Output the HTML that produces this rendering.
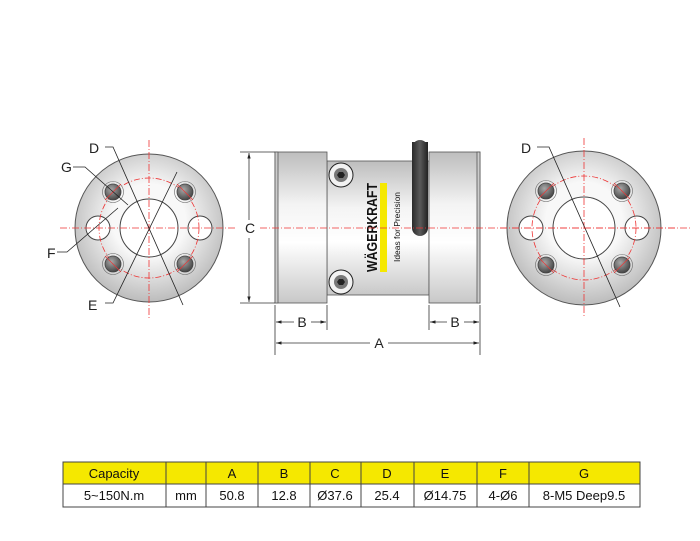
<!DOCTYPE html>
<html><head><meta charset="utf-8"><style>
html,body{margin:0;padding:0;background:#fff;}
svg{display:block;font-family:"Liberation Sans",sans-serif;}
</style></head><body>
<svg width="700" height="541" viewBox="0 0 700 541">
<defs>
<radialGradient id="fl" cx="50%" cy="45%" r="55%">
<stop offset="0.45" stop-color="#f8f8f8"/><stop offset="1" stop-color="#bcbcbc"/>
</radialGradient>
<linearGradient id="cyl" x1="0" y1="0" x2="0" y2="1">
<stop offset="0" stop-color="#bdbdbd"/><stop offset="0.35" stop-color="#f4f4f4"/><stop offset="0.6" stop-color="#ffffff"/><stop offset="1" stop-color="#c8c8c8"/>
</linearGradient>
<radialGradient id="bolt" cx="40%" cy="35%" r="70%">
<stop offset="0" stop-color="#a8a8a8"/><stop offset="1" stop-color="#404040"/>
</radialGradient>
<linearGradient id="cab" x1="0" y1="0" x2="1" y2="0">
<stop offset="0" stop-color="#2a2a2a"/><stop offset="0.5" stop-color="#5a5a5a"/><stop offset="1" stop-color="#222"/>
</linearGradient>
<marker id="ar" viewBox="0 0 10 10" refX="10" refY="5" markerWidth="7" markerHeight="7" orient="auto-start-reverse"><path d="M0,2 L10,5 L0,8 z" fill="#222"/></marker>
</defs>

<!-- Left flange -->
<g>
<circle cx="149" cy="228" r="74" fill="url(#fl)" stroke="#555" stroke-width="1"/>
<circle cx="149" cy="228" r="29" fill="#fff" stroke="#444" stroke-width="1"/>
<circle cx="98" cy="228" r="12" fill="#fff" stroke="#444"/>
<circle cx="200" cy="228" r="12" fill="#fff" stroke="#444"/>
<circle cx="149" cy="228" r="50" fill="none" stroke="#e33" stroke-width="0.8" stroke-dasharray="6,2,1,2"/>
<g stroke="#444" stroke-width="0.8">
<circle cx="113" cy="192" r="8" fill="url(#bolt)"/>
<circle cx="185" cy="192" r="8" fill="url(#bolt)"/>
<circle cx="113" cy="264" r="8" fill="url(#bolt)"/>
<circle cx="185" cy="264" r="8" fill="url(#bolt)"/>
</g>
<g fill="none" stroke="#666" stroke-width="0.6">
<circle cx="113" cy="192" r="10.5"/><circle cx="185" cy="192" r="10.5"/><circle cx="113" cy="264" r="10.5"/><circle cx="185" cy="264" r="10.5"/>
</g>
<g stroke="#e33" stroke-width="0.7">
<path d="M105,200 L121,184 M177,184 L193,200 M105,256 L121,272 M177,272 L193,256"/>
</g>
<line x1="60" y1="228" x2="235" y2="228" stroke="#e33" stroke-width="0.8" stroke-dasharray="7,2,1,2"/>
<line x1="149" y1="140" x2="149" y2="318" stroke="#e33" stroke-width="0.8" stroke-dasharray="7,2,1,2"/>
<g stroke="#222" stroke-width="0.8" fill="none">
<polyline points="105,147 113,147 183,305"/>
<polyline points="105,303 113,303 177,172"/>
<polyline points="57,252 67,252 118,208"/>
<polyline points="73,167 85,167 128,205"/>
</g>
<text x="89" y="153" font-size="14" fill="#222">D</text>
<text x="61" y="172" font-size="14" fill="#222">G</text>
<text x="47" y="258" font-size="14" fill="#222">F</text>
<text x="88" y="310" font-size="14" fill="#222">E</text>
</g>

<!-- Right flange -->
<g>
<circle cx="584" cy="228" r="77" fill="url(#fl)" stroke="#555"/>
<circle cx="584" cy="228" r="31" fill="#fff" stroke="#444"/>
<circle cx="531" cy="228" r="12" fill="#fff" stroke="#444"/>
<circle cx="637" cy="228" r="12" fill="#fff" stroke="#444"/>
<circle cx="584" cy="228" r="52" fill="none" stroke="#e33" stroke-width="0.8" stroke-dasharray="6,2,1,2"/>
<g stroke="#444" stroke-width="0.8">
<circle cx="546" cy="191" r="8" fill="url(#bolt)"/>
<circle cx="622" cy="191" r="8" fill="url(#bolt)"/>
<circle cx="546" cy="265" r="8" fill="url(#bolt)"/>
<circle cx="622" cy="265" r="8" fill="url(#bolt)"/>
</g>
<g fill="none" stroke="#666" stroke-width="0.6">
<circle cx="546" cy="191" r="10.5"/><circle cx="622" cy="191" r="10.5"/><circle cx="546" cy="265" r="10.5"/><circle cx="622" cy="265" r="10.5"/>
</g>
<g stroke="#e33" stroke-width="0.7">
<path d="M538,199 L554,183 M614,183 L630,199 M538,257 L554,273 M614,273 L630,257"/>
</g>
<line x1="500" y1="228" x2="675" y2="228" stroke="#e33" stroke-width="0.8" stroke-dasharray="7,2,1,2"/>
<line x1="584" y1="138" x2="584" y2="318" stroke="#e33" stroke-width="0.8" stroke-dasharray="7,2,1,2"/>
<polyline points="537,147 549,147 620,307" fill="none" stroke="#222" stroke-width="0.8"/>
<text x="521" y="153" font-size="14" fill="#222">D</text>
</g>

<!-- Middle body -->
<g stroke="#555" stroke-width="0.8">
<rect x="327" y="161" width="102" height="134" fill="url(#cyl)"/>
<rect x="275" y="152" width="52" height="151" fill="url(#cyl)"/>
<rect x="275" y="152" width="3" height="151" fill="#ccc"/>
<rect x="429" y="152" width="51" height="151" fill="url(#cyl)"/>
<rect x="477" y="152" width="3" height="151" fill="#ccc"/>
</g>
<g>
<circle cx="341" cy="175" r="12" fill="#f2f2f2" stroke="#222" stroke-width="1"/>
<circle cx="341" cy="175" r="7" fill="#777"/>
<polygon points="337,175 339,172 343,172 345,175 343,178 339,178" fill="#222"/>
<circle cx="341" cy="282" r="12" fill="#f2f2f2" stroke="#222" stroke-width="1"/>
<circle cx="341" cy="282" r="7" fill="#777"/>
<polygon points="337,282 339,279 343,279 345,282 343,285 339,285" fill="#222"/>
</g>
<rect x="412" y="140" width="16" height="96" rx="8" fill="url(#cab)"/>
<rect x="412" y="142" width="16" height="10" fill="url(#cab)"/>
<rect x="380" y="183" width="7" height="89" fill="#f5e800"/>
<text transform="translate(377,272) rotate(-90)" font-size="15" font-weight="bold" fill="#111" textLength="89" lengthAdjust="spacingAndGlyphs">WÄGERKRAFT</text>
<text transform="translate(400,262) rotate(-90)" font-size="8.5" fill="#111" textLength="70" lengthAdjust="spacingAndGlyphs">Ideas for Precision</text>
<line x1="260" y1="228" x2="690" y2="228" stroke="#e33" stroke-width="0.8" stroke-dasharray="7,2,1,2"/>

<!-- Dimensions -->
<g stroke="#333" stroke-width="0.8" fill="none">
<line x1="240" y1="152" x2="275" y2="152"/>
<line x1="240" y1="303" x2="275" y2="303"/>
<line x1="249" y1="153" x2="249" y2="220" marker-start="url(#ar)"/>
<line x1="249" y1="238" x2="249" y2="302" marker-end="url(#ar)"/>
<line x1="275" y1="305" x2="275" y2="355"/>
<line x1="327" y1="305" x2="327" y2="330"/>
<line x1="429" y1="305" x2="429" y2="330"/>
<line x1="480" y1="305" x2="480" y2="355"/>
<line x1="276" y1="322" x2="294" y2="322" marker-start="url(#ar)"/>
<line x1="311" y1="322" x2="326" y2="322" marker-end="url(#ar)"/>
<line x1="430" y1="322" x2="447" y2="322" marker-start="url(#ar)"/>
<line x1="464" y1="322" x2="479" y2="322" marker-end="url(#ar)"/>
<line x1="276" y1="343" x2="370" y2="343" marker-start="url(#ar)"/>
<line x1="388" y1="343" x2="479" y2="343" marker-end="url(#ar)"/>
</g>
<g font-size="14" fill="#222" text-anchor="middle">
<text x="250" y="233">C</text>
<text x="302" y="327">B</text>
<text x="455" y="327">B</text>
<text x="379" y="348">A</text>
</g>

<!-- Table -->
<g stroke="#444" stroke-width="1">
<rect x="63" y="462" width="577" height="22" fill="#f5e800"/>
<rect x="63" y="484" width="577" height="23" fill="#fff"/>
<line x1="166" y1="462" x2="166" y2="507"/>
<line x1="206" y1="462" x2="206" y2="507"/>
<line x1="258" y1="462" x2="258" y2="507"/>
<line x1="310" y1="462" x2="310" y2="507"/>
<line x1="361" y1="462" x2="361" y2="507"/>
<line x1="414" y1="462" x2="414" y2="507"/>
<line x1="477" y1="462" x2="477" y2="507"/>
<line x1="529" y1="462" x2="529" y2="507"/>
</g>
<g font-size="13" fill="#111" text-anchor="middle">
<text x="114" y="478">Capacity</text>
<text x="232" y="478">A</text>
<text x="284" y="478">B</text>
<text x="335" y="478">C</text>
<text x="387" y="478">D</text>
<text x="445" y="478">E</text>
<text x="503" y="478">F</text>
<text x="584" y="478">G</text>
<text x="114" y="500">5~150N.m</text>
<text x="186" y="500">mm</text>
<text x="232" y="500">50.8</text>
<text x="284" y="500">12.8</text>
<text x="335" y="500">Ø37.6</text>
<text x="387" y="500">25.4</text>
<text x="445" y="500">Ø14.75</text>
<text x="503" y="500">4-Ø6</text>
<text x="584" y="500">8-M5 Deep9.5</text>
</g>
</svg>
</body></html>
